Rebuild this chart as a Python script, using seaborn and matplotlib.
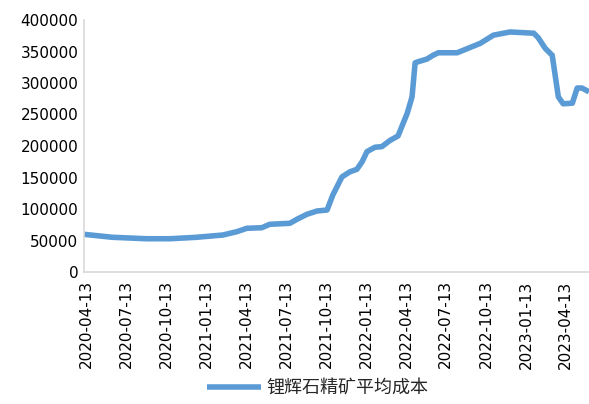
import pandas as pd
import numpy as np
import matplotlib.pyplot as plt
import seaborn as sns

sns.set_theme(style="white")
plt.rcParams['font.family'] = ['DejaVu Sans', 'Noto Sans CJK SC']

# datos
fechas = [
    '2020-04-08', '2020-06-12', '2020-08-29', '2020-10-21', '2020-12-21',
    '2021-02-19', '2021-03-23', '2021-04-15', '2021-05-19', '2021-06-06',
    '2021-07-22', '2021-08-07', '2021-08-30', '2021-09-22', '2021-10-15',
    '2021-10-28', '2021-11-18', '2021-12-06', '2021-12-22', '2022-01-03',
    '2022-01-14', '2022-02-01', '2022-02-17', '2022-03-08', '2022-03-26',
    '2022-04-16', '2022-04-27', '2022-05-04', '2022-05-12', '2022-05-31',
    '2022-06-14', '2022-06-26', '2022-08-08', '2022-09-30', '2022-10-30',
    '2022-12-07', '2023-01-30', '2023-02-09', '2023-02-25', '2023-03-13',
    '2023-03-27', '2023-04-07', '2023-04-28', '2023-05-09', '2023-05-20',
    '2023-06-05',
]
costo = [
    59800, 55100, 52800, 52800, 55100,
    58700, 64000, 69400, 70300, 75700,
    77300, 83600, 91600, 96800, 98400,
    122000, 151000, 159000, 163000, 175000,
    191000, 198000, 199000, 209000, 216000,
    252000, 278000, 332000, 334000, 338000,
    344000, 348000, 348000, 363000, 376000,
    381000, 379000, 372000, 355000, 344000,
    278000, 267000, 268000, 292000, 292000,
    286000,
]
serie = '锂辉石精矿平均成本'
y_ticks = [0, 50000, 100000, 150000, 200000, 250000, 300000, 350000, 400000]
x_ticks = ['2020-04-13', '2020-07-13', '2020-10-13', '2021-01-13', '2021-04-13',
           '2021-07-13', '2021-10-13', '2022-01-13', '2022-04-13', '2022-07-13',
           '2022-10-13', '2023-01-13', '2023-04-13']

df = pd.DataFrame({'Fecha': pd.to_datetime(fechas), 'Costo': costo})

fig = plt.figure(figsize=(5.89, 4.04), dpi=100)
ax = fig.add_axes([84 / 589, 1 - 272 / 404, 1 - 84 / 589, (272 - 20) / 404])

sns.lineplot(data=df, x='Fecha', y='Costo', ax=ax, color='#5B9BD5',
             linewidth=4, label=serie, legend=False)
linea = ax.lines[0]
linea.set_clip_on(False)
linea.set_solid_joinstyle('round')
linea.set_solid_capstyle('butt')

ax.set_ylim(0, 400000)
ax.set_xlim(pd.Timestamp('2020-04-08'), pd.Timestamp('2023-06-05'))
ax.set_yticks(y_ticks)
ax.set_yticklabels([str(v) for v in y_ticks])
ax.set_xticks(pd.to_datetime(x_ticks))
ax.set_xticklabels(x_ticks, rotation=90)
ax.tick_params(axis='both', length=0, labelsize=11, colors='#000000')
ax.tick_params(axis='x', pad=6)
ax.tick_params(axis='y', pad=4)
ax.set_xlabel('')
ax.set_ylabel('')

for lado in ['top', 'right']:
    ax.spines[lado].set_visible(False)
for lado in ['left', 'bottom']:
    ax.spines[lado].set_color('#d9d9d9')
    ax.spines[lado].set_linewidth(1.2)

handles, labels = ax.get_legend_handles_labels()
fig.legend(handles, labels, loc='center', bbox_to_anchor=(318 / 589, 1 - 388 / 404),
           frameon=False, handlelength=3.0, handletextpad=0.3,
           prop={'family': ['Noto Sans CJK SC', 'DejaVu Sans'], 'size': 13})

plt.savefig('out.png', dpi=100)
plt.close()
